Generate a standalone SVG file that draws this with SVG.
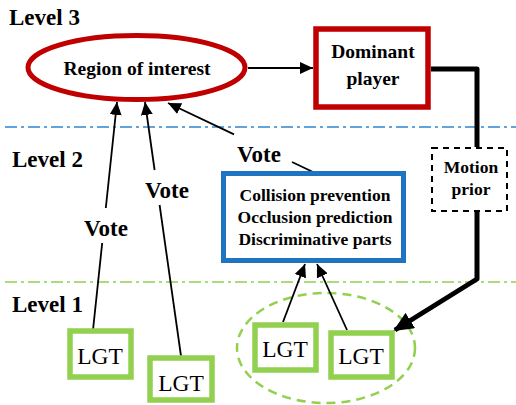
<svg xmlns="http://www.w3.org/2000/svg" width="516" height="405" viewBox="0 0 516 405">
<defs>
<marker id="ah" markerUnits="userSpaceOnUse" markerWidth="13" markerHeight="12" refX="13" refY="6" orient="auto">
<path d="M0,0 L13,6 L0,12 z" fill="#000"/>
</marker>
<marker id="ahBig" markerUnits="userSpaceOnUse" markerWidth="20" markerHeight="18" refX="18" refY="9" orient="auto">
<path d="M0,0 L20,9 L0,18 z" fill="#000"/>
</marker>
<style>
text{font-family:'Liberation Serif','DejaVu Serif',serif}
.lvl{font-weight:bold;font-size:23px;fill:#000}
.bold{font-weight:bold;fill:#000;text-anchor:middle}
.lgt{font-size:23.5px;fill:#000;text-anchor:middle}
.lgtbox{fill:#fff;stroke:#92D050;stroke-width:5.5}
.thin{stroke:#000;stroke-width:1.8;fill:none}
.thick{stroke:#000;stroke-width:5;fill:none;stroke-linejoin:round}
</style>
</defs>
<rect width="516" height="405" fill="#fff"/>

<g id="levels">
<line x1="5" y1="127" x2="516" y2="127" stroke="#2E86D1" stroke-width="1.5" stroke-dasharray="12 4 3 4"/>
<line x1="5" y1="282" x2="516" y2="282" stroke="#92D050" stroke-width="1.5" stroke-dasharray="12 4 3 4"/>
<text class="lvl" x="9" y="25" font-family="Liberation Serif, serif">Level 3</text>
<text class="lvl" x="12" y="167" font-family="Liberation Serif, serif">Level 2</text>
<text class="lvl" x="12" y="312" font-family="Liberation Serif, serif">Level 1</text>
</g>

<g id="group-ellipse">
<ellipse cx="326" cy="348" rx="89" ry="55" fill="none" stroke="#92D050" stroke-width="2.5" stroke-dasharray="9 6"/>
</g>

<g id="connectors">
<line class="thin" x1="248" y1="68" x2="313" y2="68" marker-end="url(#ah)"/>
<line class="thin" x1="93" y1="330" x2="102.2" y2="243"/>
<line class="thin" x1="105.8" y1="208" x2="117" y2="102" marker-end="url(#ah)"/>
<line class="thin" x1="181" y1="356" x2="159.6" y2="205"/>
<line class="thin" x1="154.6" y1="170" x2="145" y2="102" marker-end="url(#ah)"/>
<line class="thin" x1="313" y1="172" x2="292" y2="162"/>
<line class="thin" x1="234" y1="134.4" x2="168" y2="103" marker-end="url(#ah)"/>
<line class="thin" x1="283" y1="322" x2="305" y2="264" marker-end="url(#ah)"/>
<line class="thin" x1="347" y1="330" x2="317" y2="264" marker-end="url(#ah)"/>
<polyline class="thick" points="431,69 477,69 477,147"/>
<polyline class="thick" points="477,212 477,279 395,330" marker-end="url(#ahBig)"/>
<text class="bold" x="106" y="236" font-size="23">Vote</text>
<text class="bold" x="167" y="198" font-size="23">Vote</text>
<text class="bold" x="259" y="162" font-size="23">Vote</text>
</g>

<g id="region-of-interest">
<ellipse cx="136.5" cy="67.5" rx="108.5" ry="32" fill="#fff" stroke="#C00000" stroke-width="5"/>
<text class="bold" x="137" y="75" font-size="19.5">Region of interest</text>
</g>

<g id="dominant-player">
<rect x="316" y="29" width="112" height="78" fill="#fff" stroke="#C00000" stroke-width="5.5"/>
<text class="bold" x="373" y="58" font-size="19.5">Dominant</text>
<text class="bold" x="373" y="85" font-size="19.5">player</text>
</g>

<g id="motion-prior">
<rect x="432" y="148" width="75" height="63" fill="#fff" stroke="#000" stroke-width="2" stroke-dasharray="6 5"/>
<text class="bold" x="471" y="173" font-size="17.5">Motion</text>
<text class="bold" x="471" y="195" font-size="17.5">prior</text>
</g>

<g id="cues">
<rect x="223.5" y="173.5" width="180" height="87" fill="#fff" stroke="#1F74C2" stroke-width="5"/>
<text class="bold" x="315" y="201" font-size="17.5">Collision prevention</text>
<text class="bold" x="315" y="223" font-size="17.5">Occlusion prediction</text>
<text class="bold" x="315" y="245" font-size="17.5">Discriminative parts</text>
</g>

<g id="lgt1">
<rect class="lgtbox" x="70" y="331" width="61" height="46"/>
<text class="lgt" x="100" y="364">LGT</text>
</g>
<g id="lgt2">
<rect class="lgtbox" x="150" y="358" width="62" height="42"/>
<text class="lgt" x="181" y="391">LGT</text>
</g>
<g id="lgt3">
<rect class="lgtbox" x="255" y="325" width="61" height="45"/>
<text class="lgt" x="285" y="357">LGT</text>
</g>
<g id="lgt4">
<rect class="lgtbox" x="331" y="333" width="61" height="44"/>
<text class="lgt" x="361" y="364">LGT</text>
</g>
</svg>
